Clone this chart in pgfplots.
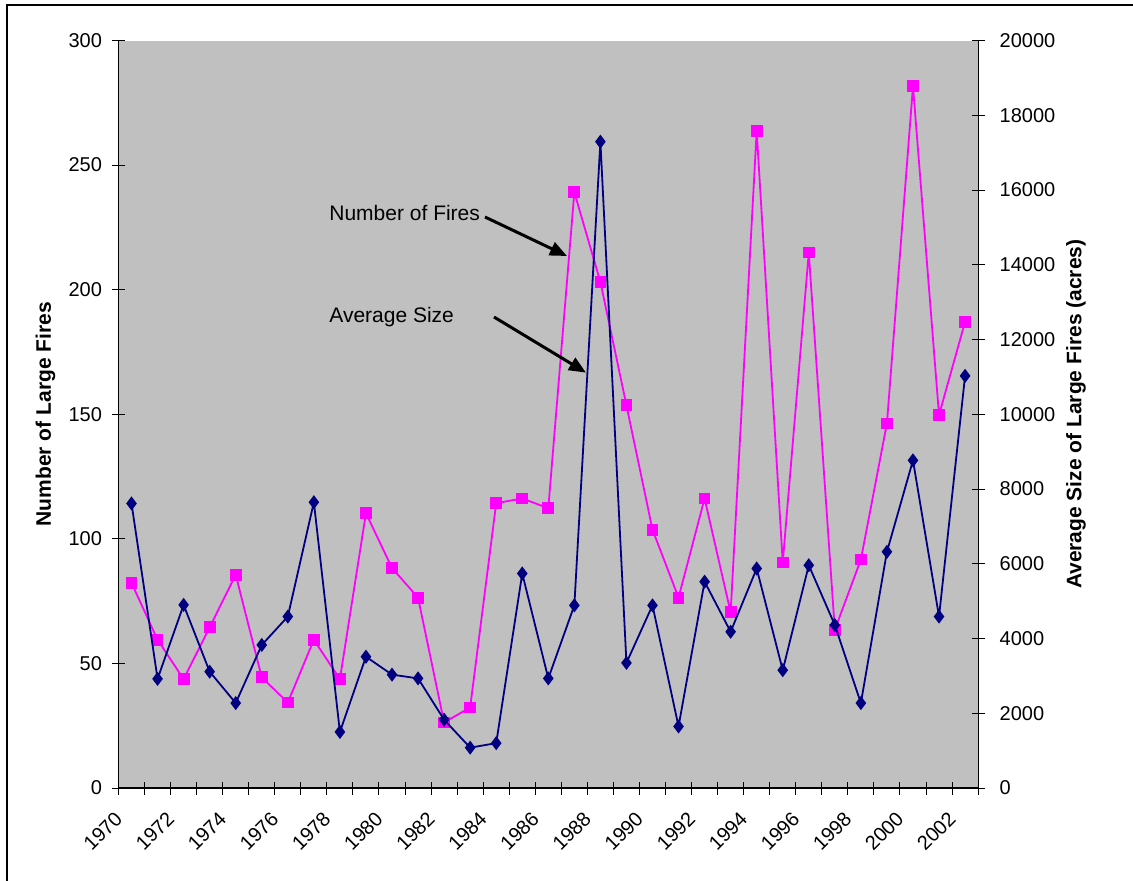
\documentclass[border=0pt]{standalone}
\usepackage{pgfplots}
\pgfplotsset{compat=1.18}
\usepackage{pgfplotstable}
\usepackage{fontspec}
\setmainfont{Liberation Sans}
\usetikzlibrary{arrows.meta}
\pgfplotsset{/pgf/number format/1000 sep={}, /pgf/number format/assume math mode=true}

\definecolor{plotgray}{RGB}{192,192,192}
\definecolor{firemag}{RGB}{255,0,255}
\definecolor{sizenavy}{RGB}{0,0,128}

% number of large fires (left axis)
\pgfplotstableread{
year fires
1970 82.3
1971 59.5
1972 43.7
1973 64.5
1974 85.6
1975 44.4
1976 34.3
1977 59.5
1978 43.7
1979 110.3
1980 88.3
1981 76.4
1982 26.3
1983 32.3
1984 114.3
1985 116.2
1986 112.3
1987 239.1
1988 203.1
1989 153.6
1990 103.7
1991 76.4
1992 116.2
1993 70.5
1994 263.7
1995 90.5
1996 214.9
1997 63.5
1998 91.7
1999 146.3
2000 281.7
2001 149.7
2002 187.1
}\firestable

% average size of large fires, acres (right axis)
\pgfplotstableread{
year acres
1970 7613
1971 2920
1972 4900
1973 3113
1974 2273
1975 3827
1976 4587
1977 7647
1978 1500
1979 3513
1980 3033
1981 2933
1982 1827
1983 1080
1984 1200
1985 5740
1986 2933
1987 4887
1988 17293
1989 3347
1990 4887
1991 1647
1992 5520
1993 4180
1994 5873
1995 3153
1996 5960
1997 4360
1998 2273
1999 6320
2000 8767
2001 4587
2002 11027
}\sizetable

\pgfplotsset{
  firesaxis/.style={
    scale only axis,
    width=429.8pt, height=373.75pt,
    xmin=1969.5, xmax=2002.5,
    axis line style={black, line width=0.6pt, -},
    tick align=center,
    major tick length=6.5pt,
    tick style={black, line width=0.5pt},
    ticklabel style={font=\fontsize{10}{12}\selectfont},
    scaled y ticks=false,
  },
}

\begin{document}
\begin{tikzpicture}
\useasboundingbox (-59.25pt,-46pt) rectangle (507.25pt,394pt);
\draw[line width=0.65pt] (-55.75pt,-50pt) -- (-55.75pt,391.5pt) -- (510pt,391.5pt);

\begin{axis}[
  firesaxis,
  axis background/.style={fill=plotgray},
  axis x line*=bottom, axis y line*=left,
  ymin=0, ymax=300,
  ytick={0,50,...,300},
  yticklabel style={xshift=-1.5pt},
  xtick={1969.5,1970.5,...,2002.5},
  x tick label as interval,
  xticklabels={1970,{},1972,{},1974,{},1976,{},1978,{},1980,{},1982,{},1984,{},1986,{},1988,{},1990,{},1992,{},1994,{},1996,{},1998,{},2000,{},2002},
  xticklabel style={anchor=east, xshift=-4pt, yshift=-8pt, rotate=45, font=\fontsize{10}{12}\selectfont},
  ylabel={Number of Large Fires},
  every axis y label/.style={at={(axis description cs:-0.085,0.5)}, rotate=90, anchor=center,
    font=\fontsize{10.5}{12}\selectfont\bfseries},
]
\addplot[color=firemag, line width=0.9pt, mark=square*, mark size=2.5pt,
  mark options={fill=firemag, draw=firemag, solid}] table[x=year, y=fires] {\firestable};
\end{axis}

\begin{axis}[
  firesaxis,
  axis x line=none, axis y line*=right,
  ymin=0, ymax=20000,
  ytick={0,2000,...,20000},
  yticklabel style={xshift=4pt},
  ylabel={Average Size of Large Fires (acres)},
  every axis y label/.style={at={(axis description cs:1.114,0.5)}, rotate=90, anchor=center,
    font=\fontsize{10.5}{12}\selectfont\bfseries},
]
\addplot[color=sizenavy, line width=0.9pt, mark=diamond*, mark size=2.8pt,
  mark options={fill=sizenavy, draw=sizenavy, solid}] table[x=year, y=acres] {\sizetable};
\end{axis}

\node[anchor=base west, inner sep=0pt, font=\fontsize{10.5}{12}\selectfont] at (105.25pt,283.65pt) {Number of Fires};
\node[anchor=base west, inner sep=0pt, font=\fontsize{10.5}{12}\selectfont] at (105.25pt,232.65pt) {Average Size};
\draw[line width=1.5pt, -{Triangle[length=8.5pt, width=7pt]}] (183.25pt,285.5pt) -- (224.25pt,266pt);
\draw[line width=1.5pt, -{Triangle[length=8.5pt, width=7pt]}] (187.75pt,235.5pt) -- (233.75pt,207.7pt);
\end{tikzpicture}
\end{document}
